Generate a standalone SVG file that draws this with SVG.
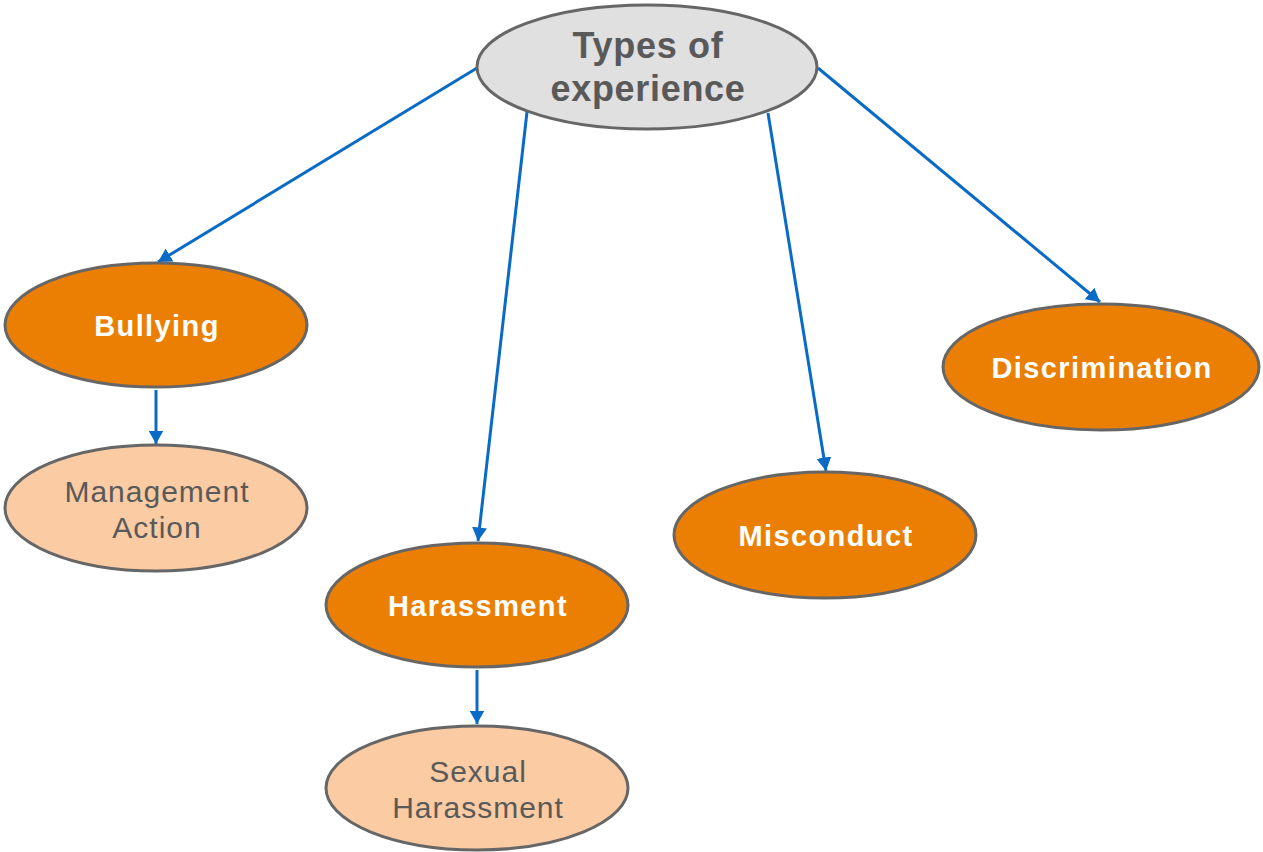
<svg xmlns="http://www.w3.org/2000/svg" width="1263" height="852" viewBox="0 0 1263 852">
<style>
.n{stroke:#666666;stroke-width:3}
.root{fill:#E0E0E0}
.main{fill:#EB7F04}
.sub{fill:#FBCBA3}
.c{stroke:#0A6BC6;stroke-width:3;fill:none;marker-end:url(#ah)}
text{font-family:"Liberation Sans",Arial,sans-serif;text-anchor:middle}
.tr{font-size:36px;font-weight:bold;fill:#595959;letter-spacing:0.7px}
.tm{font-size:29px;font-weight:bold;fill:#FFFFFF;letter-spacing:1.4px}
.ts{font-size:30px;fill:#595959;letter-spacing:1px}
</style>
<defs>
<marker id="ah" markerWidth="5" markerHeight="5" refX="4.5" refY="2.5" orient="auto" markerUnits="strokeWidth">
<path d="M0,0 L4.5,2.5 L0,5 Z" fill="#0A6BC6"/>
</marker>
</defs>
<rect width="1263" height="852" fill="#FFFFFF"/>
<g id="connectors">
<line class="c" x1="477" y1="68" x2="158" y2="262"/>
<line class="c" x1="527" y1="112" x2="478" y2="541"/>
<line class="c" x1="768" y1="113" x2="826" y2="471"/>
<line class="c" x1="818" y1="68" x2="1100" y2="302"/>
<line class="c" x1="156" y1="390" x2="156" y2="444"/>
<line class="c" x1="477" y1="670" x2="477" y2="724"/>
</g>
<g id="types">
<ellipse class="n root" cx="647" cy="67" rx="170" ry="62"/>
<text class="tr" x="648" y="58">Types of</text>
<text class="tr" x="648" y="101">experience</text>
</g>
<g id="bullying">
<ellipse class="n main" cx="156" cy="325" rx="151" ry="62"/>
<text class="tm" x="157" y="336">Bullying</text>
</g>
<g id="management">
<ellipse class="n sub" cx="156" cy="508" rx="151" ry="63"/>
<text class="ts" x="157" y="502">Management</text>
<text class="ts" x="157" y="538">Action</text>
</g>
<g id="harassment">
<ellipse class="n main" cx="477" cy="605" rx="151" ry="62"/>
<text class="tm" x="478" y="616">Harassment</text>
</g>
<g id="sexual">
<ellipse class="n sub" cx="477" cy="788" rx="151" ry="62"/>
<text class="ts" x="478" y="782">Sexual</text>
<text class="ts" x="478" y="818">Harassment</text>
</g>
<g id="misconduct">
<ellipse class="n main" cx="825" cy="535" rx="151" ry="63"/>
<text class="tm" x="826" y="546">Misconduct</text>
</g>
<g id="discrimination">
<ellipse class="n main" cx="1101" cy="367" rx="158" ry="63"/>
<text class="tm" x="1102" y="378">Discrimination</text>
</g>
</svg>
